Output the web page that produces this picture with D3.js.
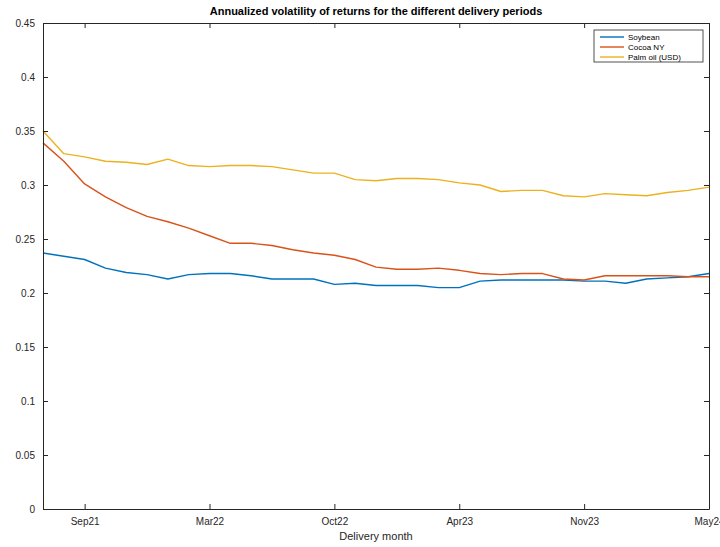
<!DOCTYPE html>
<html>
<head>
<meta charset="utf-8">
<script src="https://cdn.jsdelivr.net/npm/d3@7"></script>
<style>
  body { margin: 0; background: #fff; }
  svg text { font-family: "Liberation Sans", Arial, sans-serif; }
</style>
</head>
<body>
<div id="chart"></div>
<script>
// delivery periods are plotted by index, labels every 6th period
var tickIndex = [2, 8, 14, 20, 26, 32];
var tickLabels = ["Sep21", "Mar22", "Oct22", "Apr23", "Nov23", "May24"];
var yTicks = [0, 0.05, 0.1, 0.15, 0.2, 0.25, 0.3, 0.35, 0.4, 0.45];

var seriesNames = ["Soybean", "Cocoa NY", "Palm oil (USD)"];
var seriesColors = ["#0072BD", "#D95319", "#EDB120"];

var soybean = [0.237, 0.234, 0.231, 0.223, 0.219, 0.217, 0.213, 0.217, 0.218, 0.218,
               0.216, 0.213, 0.213, 0.213, 0.208, 0.209, 0.207, 0.207, 0.207, 0.205,
               0.205, 0.211, 0.212, 0.212, 0.212, 0.212, 0.211, 0.211, 0.209, 0.213,
               0.214, 0.215, 0.218];
var cocoa = [0.339, 0.322, 0.301, 0.289, 0.279, 0.271, 0.266, 0.260, 0.253, 0.246,
             0.246, 0.244, 0.240, 0.237, 0.235, 0.231, 0.224, 0.222, 0.222, 0.223,
             0.221, 0.218, 0.217, 0.218, 0.218, 0.213, 0.212, 0.216, 0.216, 0.216,
             0.216, 0.215, 0.215];
var palmOil = [0.350, 0.329, 0.326, 0.322, 0.321, 0.319, 0.324, 0.318, 0.317, 0.318,
               0.318, 0.317, 0.314, 0.311, 0.311, 0.305, 0.304, 0.306, 0.306, 0.305,
               0.302, 0.300, 0.294, 0.295, 0.295, 0.290, 0.289, 0.292, 0.291, 0.290,
               0.293, 0.295, 0.298];

var allSeries = [soybean, cocoa, palmOil];

var W = 720, H = 547;
var margin = {top: 23, right: 11, bottom: 38, left: 43};
var width = W - margin.left - margin.right,
    height = H - margin.top - margin.bottom;

var svg = d3.select("#chart").append("svg")
    .attr("width", W)
    .attr("height", H);

var g = svg.append("g")
    .attr("transform", "translate(" + margin.left + "," + margin.top + ")");

var x = d3.scaleLinear().domain([0, soybean.length - 1]).range([0, width]);
var y = d3.scaleLinear().domain([0, 0.45]).range([height, 0]);

var axisColor = "#262626";
var tickLen = 5;

// box axes with ticks pointing inward (matlab style)
var xAxis = d3.axisBottom(x).tickValues(tickIndex)
    .tickFormat(function(d, i) { return tickLabels[i]; })
    .tickSizeInner(-tickLen).tickSizeOuter(0).tickPadding(9);
var xTop = d3.axisTop(x).tickValues(tickIndex).tickFormat("")
    .tickSizeInner(-tickLen).tickSizeOuter(0);
var yAxis = d3.axisLeft(y).tickValues(yTicks)
    .tickFormat(function(d) { return d === 0 ? "0" : d3.format("")(+d.toFixed(2)); })
    .tickSizeInner(-tickLen).tickSizeOuter(0).tickPadding(8);
var yRight = d3.axisRight(y).tickValues(yTicks).tickFormat("")
    .tickSizeInner(-tickLen).tickSizeOuter(0);

function styleAxis(sel) {
  sel.selectAll("path").attr("stroke", axisColor).attr("stroke-width", 1);
  sel.selectAll("line").attr("stroke", axisColor).attr("stroke-width", 1);
  sel.selectAll("text").attr("fill", axisColor).style("font-size", "10px");
}

var lineGen = d3.line()
    .x(function(d, i) { return x(i); })
    .y(function(d) { return y(d); });

g.selectAll(".series")
    .data(allSeries)
  .enter().append("path")
    .attr("class", "series")
    .attr("d", lineGen)
    .attr("fill", "none")
    .attr("stroke", function(d, i) { return seriesColors[i]; })
    .attr("stroke-width", 1.4)
    .attr("stroke-linejoin", "round");

g.append("g").attr("transform", "translate(0," + height + ")").call(xAxis).call(styleAxis);
g.append("g").call(xTop).call(styleAxis);
g.append("g").call(yAxis).call(styleAxis);
g.append("g").attr("transform", "translate(" + width + ",0)").call(yRight).call(styleAxis);

// title and axis label
svg.append("text")
    .attr("x", margin.left + width / 2)
    .attr("y", 15)
    .attr("text-anchor", "middle")
    .style("font-size", "11px")
    .style("font-weight", "bold")
    .attr("fill", "#000")
    .text("Annualized volatility of returns for the different delivery periods");

svg.append("text")
    .attr("x", margin.left + width / 2)
    .attr("y", 540)
    .attr("text-anchor", "middle")
    .style("font-size", "11px")
    .attr("fill", axisColor)
    .text("Delivery month");

// legend
var legend = g.append("g").attr("transform", "translate(" + (width - 115) + ",7)");
legend.append("rect")
    .attr("width", 109).attr("height", 32)
    .attr("fill", "#fff")
    .attr("stroke", axisColor).attr("stroke-width", 0.8);

var item = legend.selectAll(".item")
    .data(seriesNames)
  .enter().append("g")
    .attr("class", "item")
    .attr("transform", function(d, i) { return "translate(0," + (7 + i * 10) + ")"; });

item.append("line")
    .attr("x1", 6).attr("x2", 30)
    .attr("stroke", function(d, i) { return seriesColors[i]; })
    .attr("stroke-width", 1.4);

item.append("text")
    .attr("x", 34).attr("dy", "0.35em")
    .style("font-size", "8px")
    .attr("fill", "#000")
    .text(function(d) { return d; });
</script>
</body>
</html>
